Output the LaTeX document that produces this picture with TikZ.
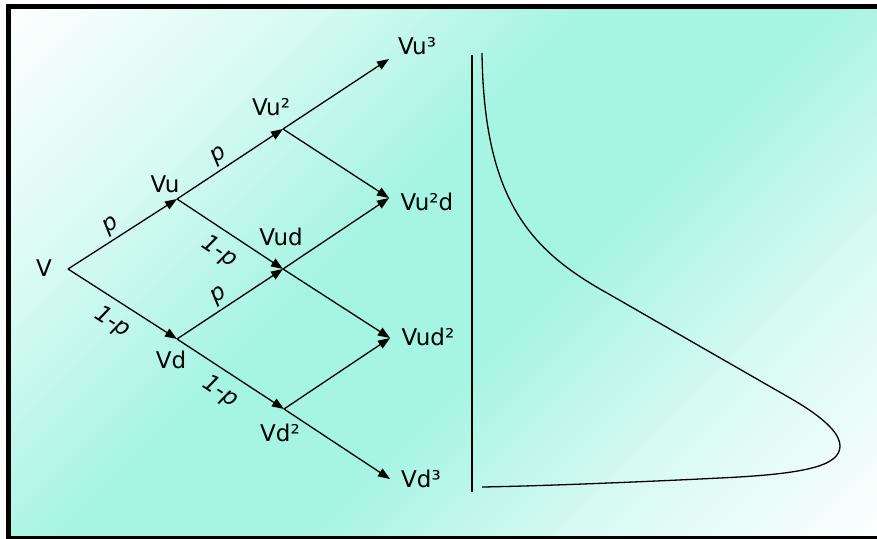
\documentclass[tikz,border=0pt]{standalone}
\usepackage{fontspec}
\setmainfont{DejaVu Sans}
\usetikzlibrary{arrows.meta}
\definecolor{aquabg}{RGB}{166,244,226}
\pgfdeclareverticalshading{bgshade}{100bp}{color(0bp)=(white); color(14bp)=(white);
  color(30bp)=(aquabg!45); color(44bp)=(aquabg); color(56bp)=(aquabg);
  color(70bp)=(aquabg!45); color(86bp)=(white); color(100bp)=(white)}
\tikzset{
  branch/.style={line width=1.3pt, -{Triangle[length=12pt,width=9pt]}},
  state/.style={inner sep=0pt},
  prob/.style={font=\fontsize{23}{27}\selectfont\itshape, sloped},
  up/.style={prob, pos=0.46, above, inner sep=3pt},
  down/.style={prob, pos=0.51, below, inner sep=9.4pt},
}

\begin{document}
\begin{tikzpicture}[x=1pt, y=-1pt, font=\fontsize{23}{27}\selectfont]
  \useasboundingbox (0,0) rectangle (877,538);
  \shade[shading=bgshade, shading angle=45] (8.5,6.5) rectangle (880,538.5);
  \draw[line width=5pt] (8.5,6.5) rectangle (880,538.5);

  % lattice points
  \coordinate (v) at (68,269);
  \coordinate (vu) at (177,199);
  \coordinate (vd) at (177,339);
  \coordinate (vuu) at (283,129);
  \coordinate (vud) at (283,269);
  \coordinate (vdd) at (284,409);
  \coordinate (vuuu) at (389,59);
  \coordinate (vuud) at (389,198);
  \coordinate (vudd) at (390,338);
  \coordinate (vddd) at (390,479);

  % labels
  \node[state] (lv) at (44,268) {V};
  \node[state] (lvu) at (165,184) {Vu};
  \node[state] (lvd) at (171,360) {Vd};
  \node[state] (lvuu) at (271,107) {Vu²};
  \node[state] (lvud) at (281,237) {Vud};
  \node[state] (lvdd) at (280,433) {Vd²};
  \node[state] (lvuuu) at (417,46) {Vu³};
  \node[state] (lvuud) at (427,202) {Vu²d};
  \node[state] (lvudd) at (428,337) {Vud²};
  \node[state] (lvddd) at (421,479) {Vd³};

  % branches
  \draw[branch] (v) -- node[up] {p} (vu);
  \draw[branch] (v) -- node[down] {1-p} (vd);
  \draw[branch] (vu) -- node[up] {p} (vuu);
  \draw[branch] (vu) -- node[down] {1-p} (vud);
  \draw[branch] (vd) -- node[up] {p} (vud);
  \draw[branch] (vd) -- node[down] {1-p} (vdd);
  \draw[branch] (vuu) -- (vuuu);
  \draw[branch] (vuu) -- (vuud);
  \draw[branch] (vud) -- (vuud);
  \draw[branch] (vud) -- (vudd);
  \draw[branch] (vdd) -- (vudd);
  \draw[branch] (vdd) -- (vddd);

  % distribution
  \coordinate (axtop) at (472,55);
  \coordinate (axbot) at (472,492);
  \draw[line width=1.3pt] (axtop) -- (axbot);
  \draw[line width=1.3pt] (482,53) .. controls (484,200) and (530,250) .. (607,293)
    -- (790,398) .. controls (830,421) and (840,436) .. (840,446)
    .. controls (840,466) and (805,474) .. (720,478)
    .. controls (640,482) and (540,486) .. (482,487);
\end{tikzpicture}
\end{document}
